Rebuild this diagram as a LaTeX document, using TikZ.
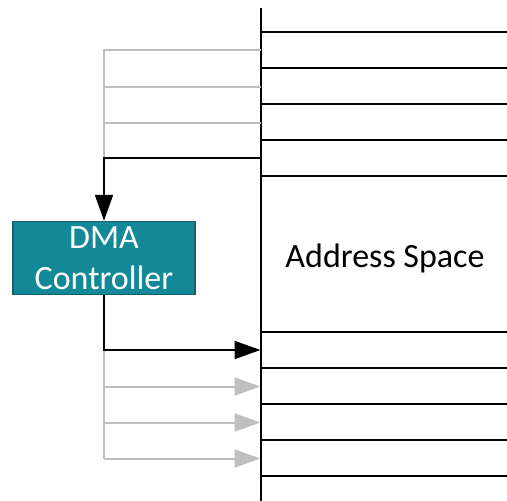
\documentclass[tikz,border=0pt]{standalone}
\usepackage{fontspec}
\setmainfont{Carlito}
\usetikzlibrary{arrows.meta}
\definecolor{dmafill}{RGB}{19,136,151}
\definecolor{dmaedge}{RGB}{24,96,108}
\definecolor{lgray}{RGB}{191,191,191}
\tikzset{
  blk/.style={line width=2pt,black},
  gry/.style={line width=2pt,lgray},
  tipb/.style={-{Triangle[length=26pt,width=18pt]}},
  dmabox/.style={draw=dmaedge,line width=1.5pt,fill=dmafill,text=white,minimum width=182pt,minimum height=73pt,inner sep=0pt,align=center,font=\fontsize{34}{41}\selectfont},
  lbl/.style={font=\fontsize{34}{41}\selectfont,inner sep=0pt}
}
\begin{document}
\begin{tikzpicture}[x=1pt,y=-1pt]
\useasboundingbox (0,0) rectangle (507,501);
% bus
\coordinate (bt) at (260.5,8);
\coordinate (bb) at (260.5,501);
\draw[blk] (bt) -- (bb);
\foreach \yy in {32,68,104,140,176,332,368,404,440,476}{
  \draw[blk] (260.5,\yy) -- (507,\yy);
}
% DMA
\node[dmabox] (dma) at (104,258) {DMA\\Controller};
\node[lbl] (as) at (385,258) {Address Space};
% gray top lines
\coordinate (g1) at (260.5,50);
\coordinate (g2) at (260.5,86.5);
\coordinate (g3) at (260.5,122.5);
\coordinate (k1) at (260.5,158);
\draw[gry] (g1) -- (104,50) -- (104,158);
\draw[gry] (g2) -- (104,86.5);
\draw[gry] (g3) -- (104,122.5);
\draw[blk,tipb] (k1) -| (dma.north);
% bottom
\coordinate (k2) at (260.5,350);
\coordinate (h1) at (260.5,386.5);
\coordinate (h2) at (260.5,422.5);
\coordinate (h3) at (260.5,458.5);
\draw[gry] (104,350) -- (104,458.5);
\draw[gry,tipb] (104,386.5) -- (h1);
\draw[gry,tipb] (104,422.5) -- (h2);
\draw[gry,tipb] (104,458.5) -- (h3);
\draw[blk,tipb] (dma.south) |- (k2);
\end{tikzpicture}
\end{document}
